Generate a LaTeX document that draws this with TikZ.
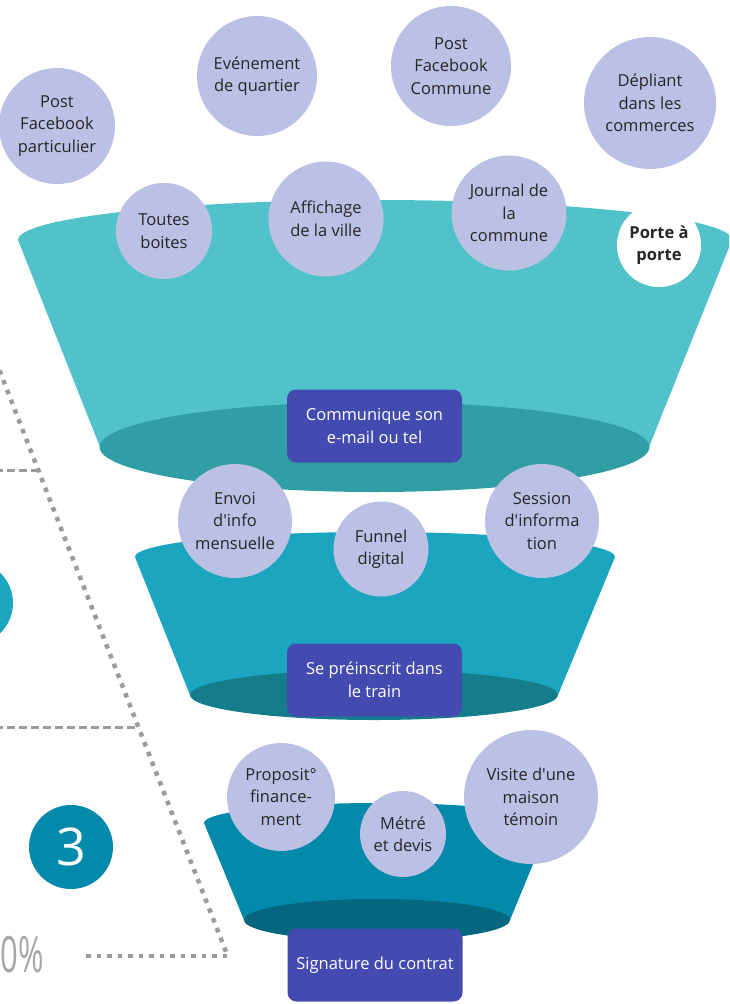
\documentclass[tikz,border=0pt]{standalone}
\usepackage{fontspec}
\setmainfont{Open Sans}
\usepackage{xcolor}
\usepackage{graphicx}

\definecolor{tealA}{HTML}{52C2CA}
\definecolor{tealAdark}{HTML}{319DA4}
\definecolor{tealB}{HTML}{1BA5BF}
\definecolor{tealBdark}{HTML}{147C8B}
\definecolor{tealC}{HTML}{0389A9}
\definecolor{tealCdark}{HTML}{04667F}
\definecolor{lilac}{HTML}{BBC0E5}
\definecolor{indigo}{HTML}{434BB0}
\definecolor{inkgray}{HTML}{262626}
\definecolor{dotgray}{HTML}{9B9B9B}
\definecolor{pctgray}{HTML}{A6A6A6}

\begin{document}
\begin{tikzpicture}[x=1pt,y=-1pt,
    bubble/.style={circle,fill=lilac,text=inkgray,align=center,inner sep=0pt,
        font=\fontsize{16.5}{22.5}\selectfont},
    stagebox/.style={rectangle,rounded corners=9pt,fill=indigo,text=white,align=center,
        minimum width=175pt,minimum height=73pt,font=\fontsize{16.5}{22.5}\selectfont},
    dotline/.style={draw=dotgray,line width=4.5pt,dash pattern=on 4.5pt off 6pt},
    dashline/.style={draw=dotgray,line width=3pt,dash pattern=on 8pt off 4pt}]
    \useasboundingbox (0,0) rectangle (729,1004);
    \clip (0,0) rectangle (729,1004);

    % Left scale (cut off)
    \coordinate (slopeTop) at (-12,341);
    \coordinate (slopeBot) at (228,957);
    \draw[dotline] (slopeTop) -- (slopeBot);
    \draw[dashline] (-5,470) -- (38,470);
    \draw[dashline] (-5,727) -- (137,727);
    \draw[dotline] (86,956) -- (228,956);
    \node[circle,fill=tealB,minimum size=84pt] (stageTwo) at (-29,603) {};
    \node[circle,fill=tealC,minimum size=84pt,text=white,
        font=\fontsize{52}{52}\selectfont] (stageThree) at (71,847) {3};
    \node[anchor=east,inner sep=0pt,text=pctgray,font=\fontsize{50}{50}\selectfont]
        (rate) at (44,955) {\scalebox{0.62}[1]{0\%}};

    % Top funnel
    \fill[tealA] (18,240) .. controls (18,218) and (178,200) .. (375,200)
        .. controls (572,200) and (732,218) .. (732,240) -- (649,447) -- (100,447) -- cycle;
    \fill[tealAdark] (374.5,447) ellipse [x radius=275, y radius=45];

    % Middle funnel
    \fill[tealB] (135,557) .. controls (135,543) and (242,532) .. (375,532)
        .. controls (508,532) and (615,543) .. (615,557) -- (558,695) -- (190,695) -- cycle;
    \fill[tealBdark] (374,695) ellipse [x radius=184, y radius=25];

    % Bottom funnel
    \fill[tealC] (204,823) .. controls (204,812) and (281,803) .. (377,803)
        .. controls (473,803) and (550,812) .. (550,823) -- (510,920) -- (244,920) -- cycle;
    \fill[tealCdark] (377,920) ellipse [x radius=133, y radius=21];

    % Stages
    \node[stagebox] (contact) at (374.5,426) {Communique son\\e-mail ou tel};
    \node[stagebox] (signup) at (374.5,680) {Se préinscrit dans\\le train};
    \node[stagebox] (contract) at (375,965) {Signature du contrat};

    % Channels, top
    \node[bubble,minimum size=116pt] (postPerso) at (57,126) {Post\\Facebook\\particulier};
    \node[bubble,minimum size=120pt] (event) at (257,76) {Evénement\\de quartier};
    \node[bubble,minimum size=120pt] (postTown) at (451,66) {Post\\Facebook\\Commune};
    \node[bubble,minimum size=132pt] (flyer) at (650,103) {Dépliant\\dans les\\commerces};
    \node[bubble,minimum size=96pt] (mailbox) at (164,231) {Toutes\\boites};
    \node[bubble,minimum size=115pt] (poster) at (326,219) {Affichage\\de la ville};
    \node[bubble,minimum size=115pt] (journal) at (509,213) {Journal de\\la\\commune};
    \node[bubble,fill=white,minimum size=84pt,font=\fontsize{16.5}{22.5}\selectfont\bfseries]
        (door) at (659,245) {Porte à\\porte};

    % Channels, middle
    \node[bubble,minimum size=114pt] (newsletter) at (235,521) {Envoi\\d\textquotesingle info\\mensuelle};
    \node[bubble,minimum size=95pt] (digital) at (381,549) {Funnel\\digital};
    \node[bubble,minimum size=114pt] (session) at (542,521) {Session\\d\textquotesingle informa\\tion};

    % Channels, bottom
    \node[bubble,minimum size=108pt] (funding) at (281,797) {Proposit°\\finance-\\ment};
    \node[bubble,minimum size=86pt] (measure) at (403,834) {Métré\\et devis};
    \node[bubble,minimum size=134pt] (visit) at (531,797) {Visite d\textquotesingle une\\maison\\témoin};
\end{tikzpicture}
\end{document}
